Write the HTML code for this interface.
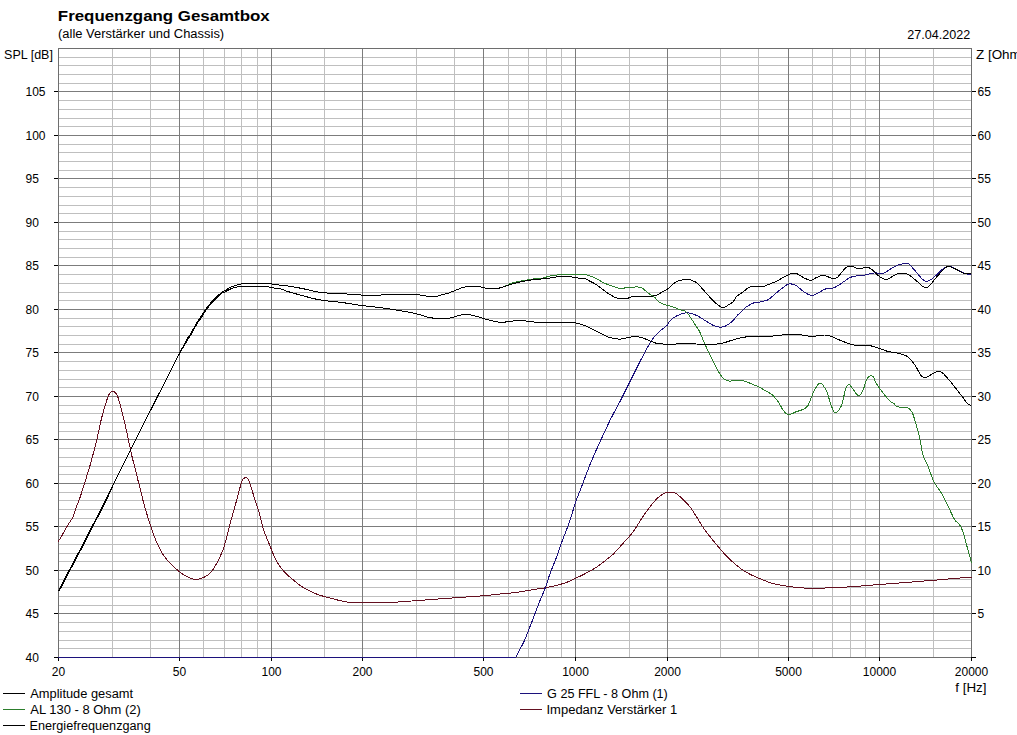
<!DOCTYPE html>
<html><head><meta charset="utf-8"><style>
html,body{margin:0;padding:0;background:#fff;width:1017px;height:735px;overflow:hidden}
svg{display:block;font-family:"Liberation Sans",sans-serif;}
text{fill:#000;font-size:12px}
</style></head><body>
<svg width="1017" height="735" viewBox="0 0 1017 735">
<rect width="1017" height="735" fill="#fff"/>
<path d="M112.5 48V657M150.5 48V657M203.5 48V657M224.5 48V657M241.5 48V657M257.5 48V657M324.5 48V657M416.5 48V657M454.5 48V657M508.5 48V657M528.5 48V657M546.5 48V657M561.5 48V657M629.5 48V657M720.5 48V657M758.5 48V657M812.5 48V657M832.5 48V657M850.5 48V657M865.5 48V657M933.5 48V657M58 648.5H971M58 640.5H971M58 631.5H971M58 622.5H971M58 605.5H971M58 596.5H971M58 587.5H971M58 579.5H971M58 561.5H971M58 553.5H971M58 544.5H971M58 535.5H971M58 518.5H971M58 509.5H971M58 500.5H971M58 492.5H971M58 474.5H971M58 466.5H971M58 457.5H971M58 448.5H971M58 431.5H971M58 422.5H971M58 413.5H971M58 405.5H971M58 387.5H971M58 379.5H971M58 370.5H971M58 361.5H971M58 344.5H971M58 335.5H971M58 326.5H971M58 318.5H971M58 300.5H971M58 292.5H971M58 283.5H971M58 274.5H971M58 257.5H971M58 248.5H971M58 239.5H971M58 231.5H971M58 213.5H971M58 205.5H971M58 196.5H971M58 187.5H971M58 170.5H971M58 161.5H971M58 152.5H971M58 144.5H971M58 126.5H971M58 118.5H971M58 109.5H971M58 100.5H971M58 83.5H971M58 74.5H971M58 65.5H971M58 57.5H971" stroke="#bfbfbf" stroke-width="1" fill="none" shape-rendering="crispEdges"/>
<path d="M179.5 48V657M271.5 48V657M362.5 48V657M483.5 48V657M575.5 48V657M667.5 48V657M788.5 48V657M879.5 48V657M58 613.5H971M58 570.5H971M58 526.5H971M58 483.5H971M58 439.5H971M58 396.5H971M58 352.5H971M58 309.5H971M58 265.5H971M58 222.5H971M58 178.5H971M58 135.5H971M58 91.5H971" stroke="#7c7c7c" stroke-width="1" fill="none" shape-rendering="crispEdges"/>
<rect x="58.5" y="48.5" width="913" height="609" fill="none" stroke="#6e6e6e" stroke-width="1" shape-rendering="crispEdges"/>
<path d="M54 657.5H58M972 657.5H976M54 613.5H58M972 613.5H976M54 570.5H58M972 570.5H976M54 526.5H58M972 526.5H976M54 483.5H58M972 483.5H976M54 439.5H58M972 439.5H976M54 396.5H58M972 396.5H976M54 352.5H58M972 352.5H976M54 309.5H58M972 309.5H976M54 265.5H58M972 265.5H976M54 222.5H58M972 222.5H976M54 178.5H58M972 178.5H976M54 135.5H58M972 135.5H976M54 91.5H58M972 91.5H976M58.5 657V661M179.5 657V661M271.5 657V661M362.5 657V661M483.5 657V661M575.5 657V661M667.5 657V661M788.5 657V661M879.5 657V661M971.5 657V661" stroke="#000" stroke-width="1" fill="none" shape-rendering="crispEdges"/>
<text x="57.85" y="20.50" style="font-size:14.5px;font-weight:bold;" textLength="211.91" lengthAdjust="spacingAndGlyphs">Frequenzgang Gesamtbox</text><text x="58.05" y="38.10" textLength="166.11" lengthAdjust="spacingAndGlyphs">(alle Verstärker und Chassis)</text><text x="970.20" y="38.80" text-anchor="end" textLength="62.91" lengthAdjust="spacingAndGlyphs">27.04.2022</text><text x="4.05" y="58.90" textLength="48.89" lengthAdjust="spacingAndGlyphs">SPL [dB]</text><text x="976.00" y="58.80" textLength="48.50" lengthAdjust="spacingAndGlyphs">Z [Ohm]</text><text x="25.50" y="661.90">40</text><text x="25.50" y="617.90">45</text><text x="977.60" y="617.90">5</text><text x="25.50" y="574.90">50</text><text x="977.60" y="574.90">10</text><text x="25.50" y="530.90">55</text><text x="977.60" y="530.90">15</text><text x="25.50" y="487.90">60</text><text x="977.60" y="487.90">20</text><text x="25.50" y="443.90">65</text><text x="977.60" y="443.90">25</text><text x="25.50" y="400.90">70</text><text x="977.60" y="400.90">30</text><text x="25.50" y="356.90">75</text><text x="977.60" y="356.90">35</text><text x="25.50" y="313.90">80</text><text x="977.60" y="313.90">40</text><text x="25.50" y="269.90">85</text><text x="977.60" y="269.90">45</text><text x="25.50" y="226.90">90</text><text x="977.60" y="226.90">50</text><text x="25.50" y="182.90">95</text><text x="977.60" y="182.90">55</text><text x="25.50" y="139.90">100</text><text x="977.60" y="139.90">60</text><text x="25.50" y="95.90">105</text><text x="977.60" y="95.90">65</text><text x="58.50" y="675.90" text-anchor="middle">20</text><text x="179.50" y="675.90" text-anchor="middle">50</text><text x="271.50" y="675.90" text-anchor="middle">100</text><text x="362.50" y="675.90" text-anchor="middle">200</text><text x="483.50" y="675.90" text-anchor="middle">500</text><text x="575.50" y="675.90" text-anchor="middle">1000</text><text x="667.50" y="675.90" text-anchor="middle">2000</text><text x="788.50" y="675.90" text-anchor="middle">5000</text><text x="879.50" y="675.90" text-anchor="middle">10000</text><text x="971.50" y="675.90" text-anchor="middle">20000</text><text x="955.30" y="691.80" textLength="31.22" lengthAdjust="spacingAndGlyphs">f [Hz]</text><text x="30.30" y="697.80" textLength="102.80" lengthAdjust="spacingAndGlyphs">Amplitude gesamt</text><text x="30.30" y="713.70" textLength="110.51" lengthAdjust="spacingAndGlyphs">AL 130 - 8 Ohm (2)</text><text x="29.50" y="729.60" textLength="121.19" lengthAdjust="spacingAndGlyphs">Energiefrequenzgang</text><text x="547.10" y="697.80" textLength="120.71" lengthAdjust="spacingAndGlyphs">G 25 FFL - 8 Ohm (1)</text><text x="546.50" y="713.70" textLength="130.70" lengthAdjust="spacingAndGlyphs">Impedanz Verstärker 1</text>
<g fill="none" stroke-width="1" stroke-linejoin="round" shape-rendering="crispEdges">
<path d="M58.3 541.5C58.8 540.7 60.2 538.5 61.3 536.6C62.4 534.8 63.8 532.2 64.8 530.4C65.8 528.6 66.6 527.1 67.5 525.6C68.4 524.1 69.3 523.0 70.2 521.6C71.1 520.2 72.0 519.0 72.8 517.2C73.6 515.4 74.3 513.1 75.0 511.0C75.7 508.9 76.5 506.8 77.2 504.8C78.0 502.8 78.8 501.1 79.5 499.0C80.2 496.9 81.0 494.7 81.7 492.4C82.4 490.1 83.2 487.4 83.9 485.3C84.6 483.2 84.7 483.0 85.6 480.0C86.5 477.0 88.1 472.2 89.5 467.3C90.9 462.4 92.6 456.1 94.0 450.9C95.4 445.7 96.7 440.1 97.7 435.9C98.7 431.6 99.2 428.8 99.9 425.4C100.7 422.0 101.2 419.4 102.2 415.7C103.2 412.0 104.9 406.2 105.9 403.0C106.9 399.8 107.5 397.9 108.2 396.2C109.0 394.4 109.6 393.3 110.4 392.5C111.2 391.7 112.1 391.2 112.9 391.2C113.7 391.2 114.3 391.8 115.0 392.5C115.7 393.2 116.3 393.1 117.2 395.2C118.1 397.3 119.1 401.0 120.3 405.4C121.5 409.8 123.0 415.9 124.4 421.7C125.8 427.5 127.3 434.7 128.5 440.1C129.7 445.6 130.3 449.3 131.5 454.4C132.7 459.5 134.1 464.6 135.6 470.7C137.1 476.8 139.1 484.9 140.7 491.1C142.3 497.3 143.3 502.2 145.0 508.0C146.7 513.8 149.2 521.3 150.7 525.9C152.2 530.5 152.8 532.5 154.0 535.7C155.2 538.9 156.5 541.9 158.0 545.0C159.5 548.1 160.8 551.4 162.9 554.5C165.0 557.6 167.7 560.8 170.3 563.5C172.9 566.2 175.7 568.6 178.4 570.8C181.1 573.0 183.7 575.0 186.6 576.5C189.5 578.0 192.7 579.4 195.6 579.5C198.5 579.6 201.7 578.1 203.8 577.3C205.9 576.5 206.6 575.8 208.0 574.8C209.4 573.8 210.6 572.9 212.0 571.0C213.4 569.1 214.8 567.0 216.7 563.4C218.6 559.8 221.5 553.8 223.2 549.2C224.9 544.6 225.7 540.7 227.0 536.0C228.3 531.3 229.2 526.8 230.8 521.0C232.4 515.2 234.5 507.9 236.3 501.4C238.1 494.9 240.4 485.6 241.7 481.8C243.0 478.0 243.3 479.2 244.0 478.5C244.7 477.8 245.0 477.4 245.6 477.4C246.2 477.4 246.9 477.8 247.5 478.5C248.1 479.2 248.1 478.4 249.3 481.8C250.5 485.2 253.2 494.1 254.8 499.2C256.4 504.3 257.7 507.1 259.1 512.2C260.6 517.3 262.0 524.9 263.5 529.7C265.0 534.5 266.6 537.4 268.0 541.0C269.4 544.6 270.8 548.0 272.2 551.4C273.6 554.8 274.3 557.6 276.5 561.2C278.7 564.8 282.6 569.9 285.2 572.8C287.8 575.7 289.2 576.4 291.8 578.6C294.4 580.8 297.6 583.8 300.5 585.8C303.4 587.8 306.3 589.1 309.2 590.6C312.1 592.1 315.0 593.5 317.9 594.6C320.8 595.7 323.3 596.2 326.6 597.1C329.9 598.0 334.0 599.1 337.5 600.0C341.0 600.9 344.1 601.7 347.7 602.2C351.3 602.7 352.0 603.0 359.2 603.0C366.4 603.0 381.5 602.8 391.1 602.4C400.7 602.0 406.1 601.4 416.7 600.6C427.3 599.8 443.9 598.6 455.0 597.8C466.1 597.0 475.7 596.4 483.2 595.8C490.7 595.2 494.9 594.5 500.0 594.0C505.1 593.5 509.0 593.3 513.9 592.7C518.8 592.1 524.0 591.1 529.4 590.2C534.8 589.3 541.4 588.5 546.5 587.5C551.6 586.5 556.3 585.5 559.9 584.5C563.5 583.5 565.4 582.8 568.0 581.8C570.6 580.8 573.0 579.4 575.5 578.2C578.0 577.0 580.5 576.1 583.0 574.8C585.5 573.5 588.4 571.8 590.6 570.6C592.8 569.4 594.4 568.5 596.0 567.5C597.6 566.5 598.3 565.9 600.0 564.6C601.7 563.4 603.9 561.6 606.0 560.0C608.1 558.4 610.4 556.7 612.4 554.9C614.4 553.1 616.2 550.9 618.0 549.0C619.8 547.1 620.7 546.0 623.0 543.4C625.3 540.8 629.4 536.5 631.8 533.6C634.1 530.7 635.4 528.3 637.1 525.7C638.8 523.1 640.2 520.6 642.0 518.0C643.8 515.4 645.9 512.3 647.7 509.8C649.5 507.3 651.2 505.1 653.0 503.0C654.8 500.9 656.6 498.9 658.3 497.4C660.0 495.9 661.5 494.8 663.0 494.0C664.5 493.2 665.3 492.8 667.2 492.6C669.1 492.4 672.5 492.2 674.3 492.6C676.1 493.0 676.2 493.5 677.8 494.8C679.4 496.1 681.9 498.4 684.0 500.5C686.1 502.6 688.2 504.5 690.2 507.1C692.2 509.7 694.0 512.8 696.0 516.0C698.0 519.2 700.5 523.6 702.5 526.6C704.5 529.6 706.2 531.6 708.0 534.0C709.8 536.4 711.5 538.5 713.2 540.7C715.0 542.9 716.7 544.9 718.5 547.0C720.3 549.1 721.9 551.0 723.8 553.1C725.7 555.2 727.6 557.3 730.0 559.5C732.4 561.7 735.4 564.4 737.9 566.4C740.4 568.4 742.6 570.0 745.0 571.5C747.4 573.0 749.5 574.0 752.0 575.2C754.5 576.4 758.4 578.0 760.0 578.7C761.6 579.4 760.0 578.9 761.7 579.5C763.4 580.1 767.1 581.7 770.0 582.6C772.9 583.5 775.1 584.2 779.0 584.9C782.9 585.6 787.8 586.4 793.4 587.0C799.0 587.6 803.6 588.3 812.6 588.3C821.6 588.3 835.9 587.6 847.1 587.0C858.3 586.4 865.3 585.6 879.7 584.5C894.1 583.4 918.0 581.5 933.4 580.3C948.8 579.0 965.4 577.5 971.8 577.0" stroke="#641020"/>
<path d="M58 657H515.9C517.3 654.2 521.9 646.2 524.5 640.4C527.1 634.6 529.3 628.3 531.8 622.0C534.2 615.7 537.0 608.2 539.2 602.5C541.5 596.8 543.5 592.7 545.3 587.8C547.1 582.9 548.4 578.0 550.2 573.1C552.0 568.2 554.2 563.4 556.0 558.5C557.8 553.6 559.1 549.4 561.2 543.7C563.3 538.0 566.2 531.1 568.6 524.1C571.0 517.1 574.0 507.2 575.9 501.5C577.8 495.8 579.1 493.2 580.3 490.0C581.5 486.8 581.6 486.5 583.3 482.0C585.0 477.5 587.8 470.0 590.7 462.9C593.7 455.8 597.5 447.2 601.0 439.6C604.5 432.1 607.9 424.5 611.4 417.6C614.9 410.7 618.3 404.9 621.7 398.2C625.1 391.5 628.5 384.5 632.0 377.6C635.5 370.7 639.4 362.6 642.4 356.9C645.4 351.2 647.9 346.7 650.0 343.2C652.1 339.7 653.1 338.2 655.0 336.0C656.9 333.8 659.2 331.8 661.2 330.0C663.2 328.2 665.5 326.9 666.9 325.5C668.3 324.1 668.2 322.8 669.4 321.4C670.6 320.0 672.4 318.5 674.3 317.3C676.2 316.1 678.9 314.8 680.8 314.1C682.7 313.4 684.1 313.0 685.7 312.9C687.3 312.8 688.7 312.8 690.6 313.3C692.5 313.8 694.7 314.5 697.1 315.7C699.5 316.9 702.6 319.0 705.3 320.6C708.0 322.2 711.0 324.4 713.5 325.5C716.0 326.6 718.1 327.0 720.0 327.1C721.9 327.2 723.4 326.8 724.9 326.3C726.4 325.8 727.6 324.8 729.0 323.9C730.4 322.9 731.9 321.8 733.1 320.6C734.3 319.4 735.1 317.9 736.3 316.5C737.5 315.1 739.0 313.8 740.4 312.4C741.8 311.0 743.1 309.5 744.5 308.4C745.9 307.2 747.0 306.4 748.6 305.5C750.2 304.6 752.5 303.2 754.3 302.7C756.1 302.1 757.9 302.4 759.2 302.2C760.6 302.0 761.0 301.7 762.4 301.4C763.8 301.1 765.9 300.8 767.3 300.2C768.7 299.6 769.2 298.9 770.6 297.8C772.0 296.7 773.9 295.1 775.5 293.7C777.1 292.3 779.0 290.7 780.4 289.6C781.8 288.5 782.5 288.0 783.7 287.1C784.9 286.2 786.2 284.8 787.8 284.3C789.4 283.8 792.0 284.0 793.5 284.3C795.0 284.6 795.5 285.1 797.0 286.2C798.5 287.2 800.6 289.2 802.4 290.6C804.2 292.0 806.2 293.5 807.9 294.3C809.6 295.1 811.1 295.6 812.7 295.4C814.3 295.2 815.7 294.3 817.6 293.3C819.5 292.3 822.1 290.4 824.1 289.5C826.1 288.6 827.9 288.4 829.5 288.1C831.1 287.8 832.0 288.6 833.8 287.9C835.6 287.2 838.3 285.4 840.3 284.1C842.3 282.8 844.1 281.4 845.7 280.3C847.3 279.2 848.5 278.3 850.0 277.6C851.5 276.9 852.6 276.7 854.4 276.3C856.2 275.9 858.9 275.6 860.9 275.4C862.9 275.2 864.5 275.2 866.3 274.9C868.1 274.5 870.1 273.6 871.7 273.3C873.3 273.0 874.1 272.9 876.0 272.9C877.9 272.9 880.4 274.1 883.0 273.3C885.6 272.6 889.1 269.8 891.6 268.4C894.1 267.0 895.8 265.9 898.1 265.1C900.5 264.3 903.9 263.7 905.7 263.5C907.5 263.3 907.3 262.8 908.9 264.1C910.5 265.4 913.2 268.7 915.4 271.1C917.6 273.5 920.1 277.0 921.9 278.7C923.7 280.4 924.6 281.3 926.2 281.4C927.8 281.5 929.9 280.4 931.7 279.2C933.5 278.0 935.1 276.1 937.1 274.3C939.1 272.5 941.8 269.7 943.6 268.4C945.4 267.1 946.6 266.7 947.9 266.4C949.1 266.1 949.7 266.3 951.1 266.8C952.5 267.3 954.5 268.5 956.5 269.5C958.5 270.5 961.2 271.9 963.0 272.7C964.8 273.4 965.9 273.8 967.3 274.0C968.6 274.2 970.5 274.0 971.1 274.0" stroke="#1c127c"/>
<path d="M58.5 590.8C59.8 588.4 63.4 581.2 66.0 576.3C68.6 571.4 71.3 566.3 74.0 561.3C76.7 556.2 79.3 551.1 82.0 546.0C84.7 540.9 87.3 535.7 90.0 530.5C92.7 525.3 95.3 520.1 98.0 514.9C100.7 509.7 103.3 504.4 106.0 499.1C108.7 493.8 111.3 488.5 114.0 483.2C116.7 477.9 119.3 472.5 122.0 467.2C124.7 461.9 127.3 456.5 130.0 451.2C132.7 445.9 135.3 440.6 138.0 435.3C140.7 430.0 143.3 424.6 146.0 419.3C148.7 414.0 151.3 408.8 154.0 403.5C156.7 398.2 159.3 393.0 162.0 387.8C164.7 382.6 167.3 377.4 170.0 372.2C172.7 366.9 175.2 361.7 178.0 356.3C180.8 350.9 184.6 343.6 186.7 339.8C188.8 336.0 189.2 336.2 190.8 333.5C192.4 330.8 194.7 326.2 196.2 323.6C197.7 321.1 198.8 320.1 200.0 318.2C201.2 316.3 202.7 314.0 203.6 312.5C204.5 311.0 204.2 311.1 205.6 309.3C207.0 307.5 209.5 304.2 212.0 301.5C214.5 298.8 218.7 294.9 220.7 293.1C222.7 291.3 222.3 292.0 224.2 290.9C226.1 289.8 229.4 287.6 232.2 286.5C235.0 285.4 238.3 284.6 241.0 284.0C243.7 283.4 245.4 283.3 248.1 283.2C250.8 283.1 254.1 283.1 257.0 283.1C259.9 283.1 262.9 283.2 265.8 283.4C268.7 283.6 271.7 283.9 274.6 284.3C277.6 284.7 280.9 285.3 283.5 285.6C286.1 285.9 286.4 285.7 290.1 286.3C293.8 286.9 300.6 288.2 305.9 289.3C311.1 290.4 315.7 291.9 321.6 292.6C327.5 293.3 334.8 293.2 341.3 293.6C347.9 294.0 354.4 294.7 360.9 295.0C367.3 295.3 376.0 295.3 380.0 295.2C384.0 295.1 379.2 294.3 385.1 294.2C391.0 294.1 408.2 294.2 415.4 294.6C422.6 295.0 424.8 296.1 428.4 296.3C432.0 296.6 435.0 296.3 437.1 296.1C439.2 295.9 439.2 295.4 441.0 294.9C442.8 294.4 445.4 294.1 447.9 293.3C450.3 292.5 453.1 291.2 455.7 290.2C458.3 289.2 460.5 288.0 463.6 287.3C466.8 286.6 471.5 286.2 474.6 286.2C477.8 286.2 480.4 286.9 482.5 287.3C484.6 287.7 484.6 288.1 487.2 288.3C489.8 288.5 494.8 288.8 498.2 288.3C501.6 287.8 505.6 285.9 507.7 285.1C509.8 284.3 508.8 284.0 510.6 283.4C512.4 282.8 516.9 281.9 518.7 281.5C520.5 281.1 518.8 281.4 521.4 281.0C524.0 280.6 530.8 279.3 534.4 278.8C538.0 278.3 540.4 278.5 543.0 278.0C545.6 277.5 547.2 276.6 550.1 276.0C553.0 275.4 557.2 275.0 560.4 274.7C563.5 274.4 566.5 274.4 569.0 274.3C571.5 274.2 572.8 274.1 575.3 274.1C577.8 274.1 581.5 274.0 583.9 274.3C586.3 274.6 587.8 275.1 589.8 275.8C591.8 276.5 593.4 277.2 595.7 278.3C598.0 279.4 601.3 281.6 603.6 282.7C605.9 283.8 607.5 284.5 609.5 285.2C611.5 285.9 613.8 286.6 615.4 287.1C617.0 287.6 618.0 288.2 619.3 288.4C620.6 288.6 622.0 288.6 623.3 288.4C624.6 288.2 624.6 287.6 627.2 287.4C629.8 287.2 636.4 286.9 639.0 287.1C641.6 287.3 641.3 287.5 642.9 288.6C644.5 289.7 646.8 292.0 648.8 293.5C650.8 295.0 652.9 295.9 654.7 297.4C656.5 298.9 657.8 301.2 659.6 302.4C661.4 303.6 663.4 304.1 665.5 304.8C667.6 305.5 670.0 306.0 672.4 306.8C674.8 307.6 677.9 309.0 680.0 309.7C682.1 310.4 683.4 309.9 684.9 310.8C686.4 311.7 687.5 313.4 688.8 315.0C690.1 316.6 691.3 318.7 692.5 320.5C693.7 322.3 694.8 324.2 696.0 326.0C697.2 327.8 698.4 329.1 699.6 331.5C700.8 333.9 702.3 338.0 703.3 340.4C704.3 342.8 704.7 343.6 705.7 345.9C706.7 348.1 708.2 351.3 709.4 353.9C710.6 356.4 711.9 358.8 713.1 361.2C714.3 363.6 715.5 366.4 716.7 368.6C717.9 370.9 719.2 373.0 720.4 374.7C721.6 376.4 722.7 377.9 724.1 379.0C725.5 380.1 727.4 380.8 729.0 381.1C730.6 381.4 731.8 380.7 733.9 380.6C736.0 380.5 738.4 379.6 741.9 380.4C745.4 381.2 751.6 383.9 754.9 385.2C758.1 386.5 758.5 386.8 761.4 388.4C764.3 390.0 769.3 392.5 772.2 394.9C775.1 397.2 776.9 400.0 778.7 402.5C780.5 405.0 781.4 407.9 783.0 410.0C784.6 412.1 786.2 414.5 788.4 414.8C790.6 415.1 793.6 412.7 796.0 411.8C798.4 410.9 800.5 410.6 802.5 409.6C804.5 408.6 806.1 408.5 807.9 405.7C809.7 402.9 811.3 396.5 813.3 392.7C815.3 388.9 817.6 383.4 819.8 383.0C822.0 382.6 824.5 387.2 826.3 390.6C828.1 394.0 829.2 399.8 830.6 403.5C832.0 407.2 833.1 412.2 834.9 412.6C836.7 413.0 839.6 409.7 841.4 405.7C843.2 401.7 844.4 391.9 845.7 388.4C847.0 384.9 847.7 384.3 849.0 384.5C850.3 384.7 851.9 387.7 853.3 389.5C854.7 391.3 856.4 394.5 857.6 395.3C858.8 396.1 859.5 395.6 860.5 394.5C861.5 393.4 862.6 391.2 863.5 389.0C864.4 386.8 865.1 383.1 866.0 381.0C866.9 378.9 867.6 377.3 868.8 376.6C870.0 375.9 871.8 375.5 873.0 376.6C874.2 377.7 875.0 381.2 876.0 383.0C877.0 384.8 877.7 385.7 879.0 387.5C880.3 389.3 881.9 391.5 883.6 393.7C885.4 395.9 887.9 399.2 889.5 400.8C891.1 402.4 891.9 402.0 893.3 403.0C894.7 404.0 895.5 406.1 897.8 406.8C900.1 407.5 905.1 406.8 907.2 407.4C909.4 408.0 909.8 409.6 910.7 410.5C911.6 411.4 911.7 410.9 912.5 413.0C913.3 415.1 914.6 419.2 915.7 423.2C916.9 427.1 918.2 431.4 919.4 436.7C920.6 442.0 921.6 450.1 923.0 455.0C924.4 459.9 926.1 461.5 927.9 466.0C929.7 470.5 931.8 477.5 934.0 482.0C936.2 486.5 938.9 488.7 941.4 493.0C943.9 497.3 946.5 503.1 948.7 507.6C950.9 512.1 953.0 517.0 954.8 519.9C956.6 522.8 958.3 522.6 959.7 524.8C961.1 527.0 962.2 529.6 963.4 533.3C964.6 537.0 965.8 541.9 967.1 546.8C968.5 551.7 970.8 560.1 971.5 562.7" stroke="#2c7e2c"/>
<path d="M59.3 590.8C60.5 588.4 64.2 581.2 66.8 576.3C69.4 571.4 72.1 566.3 74.8 561.3C77.5 556.2 80.1 551.1 82.8 546.0C85.5 540.9 88.1 535.7 90.8 530.5C93.5 525.3 96.1 520.1 98.8 514.9C101.5 509.7 104.3 504.4 106.8 499.1C109.3 493.8 111.5 488.5 114.0 483.2C116.5 477.9 119.3 472.5 122.0 467.2C124.7 461.9 127.3 456.5 130.0 451.2C132.7 445.9 135.3 440.6 138.0 435.3C140.7 430.0 143.3 424.6 146.0 419.3C148.7 414.0 151.3 408.8 154.0 403.5C156.7 398.2 159.3 393.0 162.0 387.8C164.7 382.6 167.3 377.4 170.0 372.2C172.7 366.9 175.1 361.6 178.0 356.3C180.9 351.0 185.1 343.9 187.4 340.1C189.6 336.4 189.9 336.5 191.5 333.8C193.1 331.1 195.4 326.5 196.9 323.9C198.4 321.4 199.5 320.4 200.7 318.5C201.9 316.6 203.4 314.3 204.3 312.8C205.2 311.3 204.9 311.4 206.3 309.6C207.7 307.8 210.2 304.5 212.7 301.8C215.2 299.1 219.5 295.0 221.4 293.4C223.3 291.8 222.4 293.2 224.2 292.3C226.0 291.4 229.4 289.3 232.2 288.3C235.0 287.3 237.6 286.6 241.0 286.3C244.4 286.0 248.7 286.3 252.8 286.3C256.9 286.3 262.6 286.2 265.8 286.5C269.0 286.8 269.6 287.4 272.0 287.8C274.4 288.2 277.8 288.2 280.0 288.7C282.2 289.1 283.3 289.9 285.0 290.5C286.7 291.1 284.7 290.7 290.1 292.2C295.6 293.7 309.2 297.8 317.7 299.5C326.2 301.2 334.1 301.4 341.3 302.4C348.5 303.4 356.1 304.7 360.9 305.4C365.7 306.1 366.8 306.1 370.0 306.5C373.2 306.9 376.4 307.1 380.0 307.6C383.6 308.1 386.1 308.4 391.6 309.3C397.2 310.2 407.2 311.7 413.3 313.0C419.4 314.3 424.4 316.4 428.4 317.3C432.4 318.2 433.5 318.3 437.1 318.4C440.7 318.5 446.4 318.5 450.0 318.0C453.6 317.5 455.8 316.0 458.7 315.4C461.6 314.8 464.4 314.4 467.3 314.5C470.2 314.6 472.8 315.4 476.0 316.2C479.2 317.0 482.8 318.5 486.8 319.5C490.8 320.5 496.2 321.9 499.8 322.3C503.4 322.7 505.1 321.9 508.4 321.6C511.6 321.3 515.7 320.4 519.3 320.4C522.9 320.4 526.1 321.2 530.1 321.6C534.1 322.0 537.2 322.5 543.0 322.7C548.8 322.9 559.5 322.7 564.7 322.7C569.9 322.7 571.2 322.3 574.4 322.7C577.6 323.1 580.5 323.9 584.1 325.3C587.7 326.7 591.9 329.1 596.0 331.1C600.1 333.1 604.9 335.9 608.9 337.2C612.9 338.5 615.5 339.2 619.8 339.1C624.1 339.0 630.9 336.6 634.9 336.5C638.9 336.4 639.9 337.2 643.5 338.3C647.1 339.4 652.2 342.3 656.5 343.3C660.8 344.3 665.8 344.0 669.5 344.1C673.2 344.2 675.2 344.0 678.6 343.9C682.0 343.8 686.5 343.3 690.0 343.4C693.5 343.5 695.8 344.1 699.8 344.3C703.8 344.5 710.4 344.5 714.3 344.3C718.1 344.1 720.0 343.8 722.9 343.1C725.8 342.5 728.5 341.2 731.4 340.4C734.2 339.5 737.5 338.6 740.0 338.0C742.5 337.4 744.6 337.2 746.2 336.9C747.8 336.6 745.2 336.2 749.5 336.1C753.8 336.0 765.9 336.4 772.2 336.1C778.5 335.8 783.0 334.6 787.3 334.3C791.6 334.0 794.2 333.9 798.2 334.3C802.2 334.7 807.5 336.3 811.1 336.5C814.7 336.7 816.9 335.6 819.8 335.4C822.7 335.2 824.8 334.5 828.4 335.4C832.0 336.3 837.1 339.2 841.4 340.8C845.7 342.4 849.7 344.3 854.4 345.1C859.1 345.9 865.4 345.1 869.5 345.6C873.6 346.1 876.0 347.4 878.9 348.3C881.8 349.2 884.4 350.5 887.1 351.2C889.9 351.9 892.6 352.1 895.4 352.7C898.2 353.3 901.3 353.8 903.7 354.7C906.1 355.6 907.6 356.4 909.6 358.3C911.6 360.2 913.5 363.1 915.5 366.0C917.5 368.9 919.6 374.1 921.4 376.0C923.2 377.9 924.5 377.7 926.1 377.5C927.7 377.3 928.8 375.8 930.8 374.8C932.8 373.8 935.9 371.6 937.9 371.3C939.9 371.0 940.6 371.4 942.6 373.0C944.6 374.6 947.3 377.9 949.7 380.7C952.1 383.5 954.6 386.9 956.8 389.6C959.0 392.4 960.9 394.9 962.7 397.2C964.5 399.5 965.9 402.3 967.4 403.7C968.9 405.1 970.8 405.2 971.5 405.5" stroke="#000"/>
<path d="M58.5 590.8C59.8 588.4 63.4 581.2 66.0 576.3C68.6 571.4 71.3 566.3 74.0 561.3C76.7 556.2 79.3 551.1 82.0 546.0C84.7 540.9 87.3 535.7 90.0 530.5C92.7 525.3 95.3 520.1 98.0 514.9C100.7 509.7 103.3 504.4 106.0 499.1C108.7 493.8 111.3 488.5 114.0 483.2C116.7 477.9 119.3 472.5 122.0 467.2C124.7 461.9 127.3 456.5 130.0 451.2C132.7 445.9 135.3 440.6 138.0 435.3C140.7 430.0 143.3 424.6 146.0 419.3C148.7 414.0 151.3 408.8 154.0 403.5C156.7 398.2 159.3 393.0 162.0 387.8C164.7 382.6 167.3 377.4 170.0 372.2C172.7 366.9 175.2 361.7 178.0 356.3C180.8 350.9 184.6 343.6 186.7 339.8C188.8 336.0 189.2 336.2 190.8 333.5C192.4 330.8 194.7 326.2 196.2 323.6C197.7 321.1 198.8 320.1 200.0 318.2C201.2 316.3 202.7 314.0 203.6 312.5C204.5 311.0 204.2 311.1 205.6 309.3C207.0 307.5 209.5 304.2 212.0 301.5C214.5 298.8 218.7 294.9 220.7 293.1C222.7 291.3 222.3 292.0 224.2 290.9C226.1 289.8 229.4 287.6 232.2 286.5C235.0 285.4 238.3 284.6 241.0 284.0C243.7 283.4 245.4 283.3 248.1 283.2C250.8 283.1 254.1 283.1 257.0 283.1C259.9 283.1 262.9 283.2 265.8 283.4C268.7 283.6 271.7 283.9 274.6 284.3C277.6 284.7 280.9 285.3 283.5 285.6C286.1 285.9 286.4 285.7 290.1 286.3C293.8 286.9 300.6 288.2 305.9 289.3C311.1 290.4 315.7 291.9 321.6 292.6C327.5 293.3 334.8 293.2 341.3 293.6C347.9 294.0 354.4 294.7 360.9 295.0C367.3 295.3 376.0 295.3 380.0 295.2C384.0 295.1 379.2 294.3 385.1 294.2C391.0 294.1 408.2 294.2 415.4 294.6C422.6 295.0 424.8 296.1 428.4 296.3C432.0 296.6 435.0 296.3 437.1 296.1C439.2 295.9 439.2 295.4 441.0 294.9C442.8 294.4 445.4 294.1 447.9 293.3C450.3 292.5 453.1 291.2 455.7 290.2C458.3 289.2 460.5 288.0 463.6 287.3C466.8 286.6 471.5 286.2 474.6 286.2C477.8 286.2 480.4 286.9 482.5 287.3C484.6 287.7 484.6 288.1 487.2 288.3C489.8 288.5 494.8 288.8 498.2 288.3C501.6 287.8 504.8 286.4 507.7 285.5C510.6 284.6 512.6 283.9 515.5 283.1C518.4 282.4 521.9 281.6 525.0 281.0C528.1 280.4 530.7 280.0 534.4 279.6C538.1 279.2 543.1 278.9 547.0 278.4C550.9 277.9 554.6 277.1 558.0 276.8C561.4 276.5 564.2 276.1 567.4 276.3C570.5 276.5 574.8 277.5 576.9 277.8C579.0 278.1 578.5 278.1 580.0 278.3C581.5 278.5 584.3 278.3 585.9 278.8C587.5 279.3 588.2 280.3 589.8 281.2C591.4 282.1 593.7 283.0 595.7 284.2C597.7 285.4 599.6 287.1 601.6 288.6C603.6 290.1 605.5 291.7 607.5 293.0C609.5 294.3 611.6 295.6 613.4 296.5C615.2 297.4 616.0 298.1 618.3 298.4C620.6 298.7 624.9 298.7 627.2 298.4C629.5 298.1 630.1 296.9 632.1 296.5C634.1 296.1 636.2 296.3 639.0 296.3C641.8 296.3 646.2 296.4 648.8 296.3C651.4 296.2 653.1 296.1 654.7 295.7C656.4 295.3 657.2 294.8 658.7 294.0C660.2 293.2 662.1 291.9 663.6 291.1C665.1 290.3 666.0 290.2 667.5 289.1C669.0 288.0 670.8 286.0 672.4 284.7C674.0 283.4 675.9 281.9 677.3 281.2C678.7 280.4 679.4 280.5 681.0 280.2C682.6 279.9 684.4 278.9 686.8 279.2C689.2 279.5 692.6 280.1 695.5 282.0C698.4 283.9 701.2 287.6 704.1 290.7C707.0 293.8 710.1 297.8 712.8 300.4C715.4 303.0 718.2 305.1 720.0 306.3C721.8 307.5 721.9 307.8 723.3 307.6C724.7 307.4 726.6 306.1 728.2 305.1C729.8 304.1 731.8 303.2 733.1 301.8C734.5 300.4 735.1 298.2 736.3 296.9C737.5 295.5 739.0 294.7 740.4 293.7C741.8 292.7 743.1 291.8 744.5 290.8C745.9 289.8 747.0 288.4 748.6 287.6C750.2 286.9 751.8 286.5 754.3 286.3C756.8 286.1 760.8 286.6 763.3 286.3C765.8 286.0 766.7 285.2 769.0 284.3C771.3 283.4 774.9 282.0 777.1 281.0C779.3 280.0 780.2 279.1 782.0 278.2C783.8 277.2 786.2 276.1 787.8 275.3C789.4 274.5 790.3 273.6 791.8 273.3C793.3 273.0 795.8 273.2 796.7 273.3C797.6 273.4 796.0 273.0 797.0 273.6C798.0 274.2 800.2 275.9 802.4 277.0C804.6 278.1 807.8 280.1 810.0 280.3C812.2 280.5 813.4 278.9 815.4 278.1C817.4 277.3 820.1 275.8 821.9 275.4C823.7 275.0 824.4 275.4 826.2 276.0C828.0 276.6 830.9 278.4 832.7 278.7C834.5 279.0 835.7 278.6 837.1 277.6C838.5 276.6 840.0 274.3 841.4 272.7C842.8 271.1 844.3 268.9 845.7 267.8C847.1 266.7 848.7 266.4 850.0 266.2C851.3 266.0 852.0 266.4 853.3 266.8C854.6 267.2 856.2 268.1 857.6 268.4C859.0 268.7 860.5 268.6 861.9 268.4C863.3 268.2 864.9 267.3 866.3 267.3C867.6 267.3 868.7 267.5 870.0 268.2C871.3 268.9 872.9 270.4 874.3 271.6C875.6 272.8 876.6 274.2 878.1 275.4C879.6 276.6 881.5 278.1 883.0 278.7C884.5 279.3 885.9 279.5 887.3 279.2C888.7 278.9 889.8 277.9 891.6 277.0C893.4 276.1 895.8 274.2 898.1 273.6C900.5 273.0 903.5 273.1 905.7 273.6C907.9 274.1 909.1 275.1 911.1 276.5C913.1 277.9 915.4 280.1 917.6 281.9C919.8 283.7 922.3 286.5 924.1 287.3C925.9 288.1 927.0 287.7 928.4 286.8C929.8 285.9 931.1 283.8 932.7 281.9C934.3 280.0 936.1 277.6 938.1 275.4C940.1 273.1 942.8 269.9 944.6 268.4C946.4 266.9 947.0 266.2 949.0 266.4C951.0 266.6 954.0 268.4 956.5 269.5C959.0 270.6 961.7 272.6 964.1 273.3C966.5 274.1 969.9 273.9 971.1 274.0" stroke="#000"/>
</g>
<g stroke-width="1" shape-rendering="crispEdges">
<path d="M3 693.5H25" stroke="#000"/>
<path d="M3 709.5H25" stroke="#2c7e2c"/>
<path d="M3 725.5H25" stroke="#000"/>
<path d="M520 693.5H542" stroke="#1c127c"/>
<path d="M520 709.5H542" stroke="#641020"/>
</g>
</svg>
</body></html>
